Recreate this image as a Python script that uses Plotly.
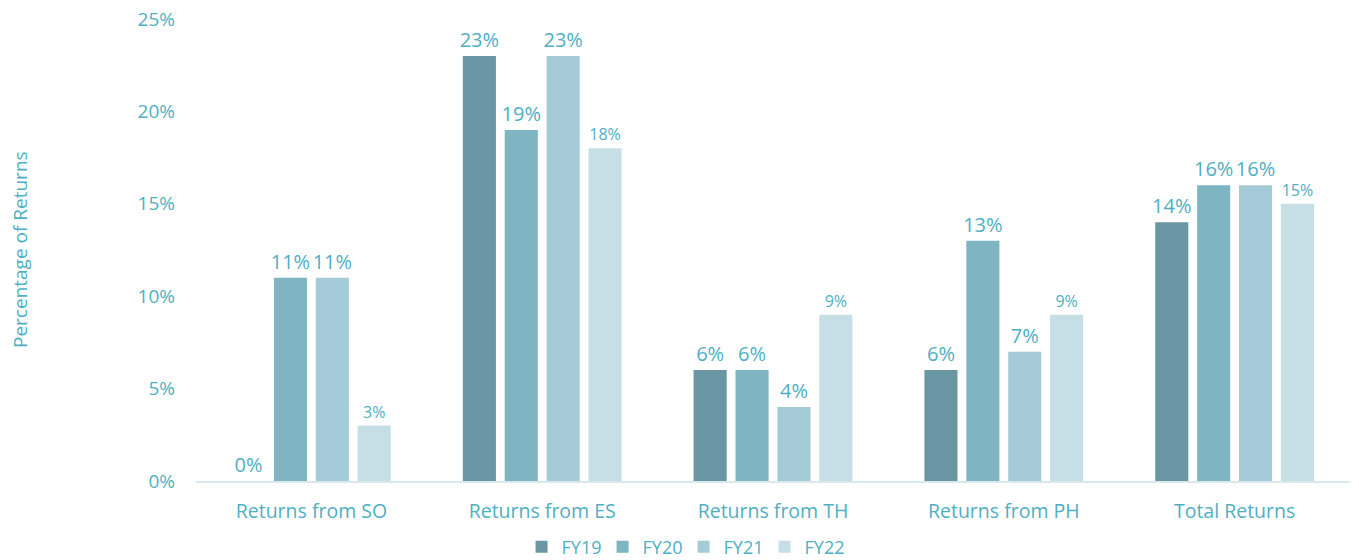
import plotly.graph_objects as go

categories = ["Returns from SO", "Returns from ES", "Returns from TH", "Returns from PH", "Total Returns"]
series_names = ["FY19", "FY20", "FY21", "FY22"]
fy19 = [0, 23, 6, 6, 14]
fy20 = [11, 19, 6, 13, 16]
fy21 = [11, 23, 4, 7, 16]
fy22 = [3, 18, 9, 9, 15]
y_ticks = [0, 5, 10, 15, 20, 25]

colors = ["#6A97A3", "#7FB5C3", "#A4CBD7", "#C6DFE6"]
label_sizes = [20, 20, 20, 16]
text_color = "#4FAFC3"
font_family = "Open Sans, Noto Sans, sans-serif"

fig = go.Figure()
for name, vals, col, ls in zip(series_names, [fy19, fy20, fy21, fy22], colors, label_sizes):
    fig.add_trace(go.Bar(
        x=categories, y=vals, name=name,
        marker=dict(color=col, line=dict(width=0)),
        text=[f"{v}%" for v in vals], textposition="outside",
        constraintext="none",
        textfont=dict(size=ls, color=text_color, family=font_family),
        cliponaxis=False,
    ))

fig.update_layout(
    width=1359, height=560,
    margin=dict(l=196, r=9, t=19, b=79, autoexpand=False),
    paper_bgcolor="white", plot_bgcolor="white",
    barmode="group", bargap=0.274, bargroupgap=0.21,
    font=dict(family=font_family, color=text_color, size=18),
    showlegend=True,
    legend=dict(orientation="h", x=0.4225, xanchor="center", y=-0.143, yanchor="middle",
                font=dict(size=18, color=text_color), itemwidth=30, traceorder="normal",
                entrywidth=36, entrywidthmode="pixels"),
    xaxis=dict(showgrid=False, showline=True, linecolor="#D9E8EC", linewidth=1.5,
               ticks="", tickfont=dict(size=19.5, color=text_color), ticklabelstandoff=12,
               automargin=False),
    yaxis=dict(range=[0, 25], tickvals=y_ticks, ticktext=[f"{t}%" for t in y_ticks],
               showgrid=False, zeroline=False, showline=False, ticks="",
               tickfont=dict(size=19, color=text_color), ticklabelstandoff=20,
               ticklabeloverflow="allow", automargin=False),
    annotations=[dict(text="Percentage of Returns", xref="paper", yref="paper", x=0, y=0.5,
                      xanchor="center", yanchor="middle",
                      xshift=-176, textangle=-90, showarrow=False,
                      font=dict(size=19, color=text_color, family=font_family))],
)

fig.write_html("out.html", config={"displayModeBar": False},
               post_script="document.body.style.margin='0';document.body.style.overflow='hidden';")
